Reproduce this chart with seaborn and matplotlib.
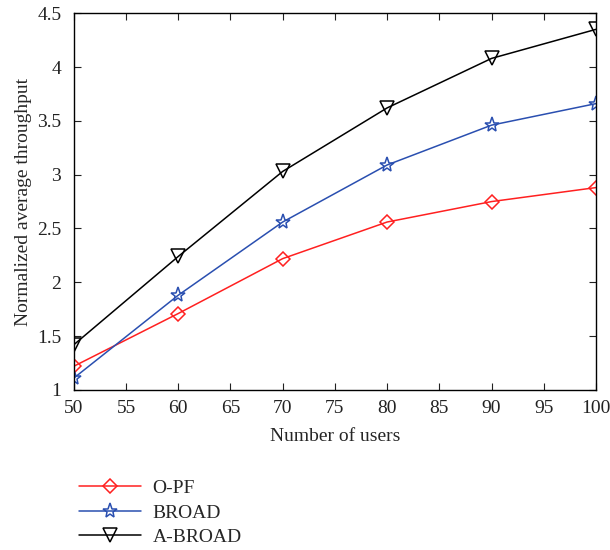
import pandas as pd
import matplotlib.pyplot as plt
import seaborn as sns

sns.set_style('ticks')
plt.rcParams['font.family'] = ['Liberation Serif', 'DejaVu Serif']

users = [50, 60, 70, 80, 90, 100]
opf = [1.22, 1.71, 2.22, 2.56, 2.75, 2.88]
broad = [1.11, 1.88, 2.56, 3.09, 3.46, 3.66]
abroad = [1.42, 2.24, 3.03, 3.62, 4.08, 4.35]

series_names = ['O-PF', 'BROAD', 'A-BROAD']
colors = ['#ff2020', '#2a4fb0', '#000000']
markers = ['D', '*', 'v']
msizes = [7.5, 11, 9.5]

df = pd.DataFrame({'users': users * 3,
                   'value': opf + broad + abroad,
                   'scheme': [n for n in series_names for _ in users]})

fig = plt.figure(figsize=(6.1, 5.5), dpi=100)
ax = fig.add_axes([0.121, 0.291, 0.856, 0.685])

for name, c, m, ms in zip(series_names, colors, markers, msizes):
    sub = df[df['scheme'] == name]
    sns.lineplot(data=sub, x='users', y='value', ax=ax, color=c, lw=1.1,
                 marker=m, markersize=ms, markerfacecolor='none',
                 markeredgecolor=c, markeredgewidth=1.1, label=name)

ax.set_xlim(50, 100)
ax.set_ylim(1, 4.5)
ax.set_xticks(range(50, 101, 5))
ax.set_yticks([1, 1.5, 2, 2.5, 3, 3.5, 4, 4.5])
ax.set_yticklabels(['1', '1.5', '2', '2.5', '3', '3.5', '4', '4.5'])
ax.tick_params(direction='in', top=True, right=True, labelsize=14, length=5, width=0.8,
               colors='#222222', pad=7)
ax.tick_params(axis='y', pad=9)
for s in ax.spines.values():
    s.set_linewidth(1.0)
    s.set_color('black')
ax.set_xlabel('Number of users', fontsize=14, labelpad=8)
ax.set_ylabel('Normalized average throughput', fontsize=14, labelpad=4)

ax.legend(loc='upper left', bbox_to_anchor=(0.1, 0.16), bbox_transform=fig.transFigure,
          frameon=False, fontsize=14, handlelength=3.2, labelspacing=0.35, handletextpad=0.6)

fig.savefig('out.png', dpi=100)
